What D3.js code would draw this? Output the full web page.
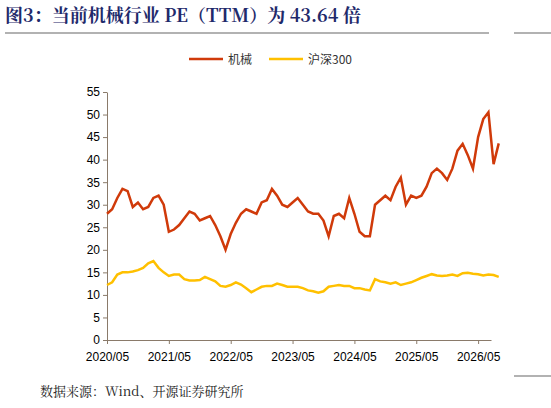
<!DOCTYPE html>
<html><head><meta charset="utf-8">
<script src="https://cdn.jsdelivr.net/npm/d3@7"></script>
<style>body{margin:0;background:#fff}text{font-family:"Liberation Sans",Arial,sans-serif}</style>
</head><body><svg id="c" width="551" height="408"></svg>
<script>
const xLabels = ["2020/05","2021/05","2022/05","2023/05","2024/05","2025/05","2026/05"];
const yTicks = [0,5,10,15,20,25,30,35,40,45,50,55];
const machinery = [28,29,31.5,33.5,33,29.5,30.5,29,29.5,31.5,32,30,24,24.5,25.5,27,28.5,28,26.5,27,27.5,25.5,23,20,23.5,26,28,29,28.5,28,30.5,31,33.5,32,30,29.5,30.5,31.5,30,28.5,28,28,26.5,23,27.5,28,27,31.5,28,24,23,23,30,31,32,31,34,36,30,32,31.5,32,34,37,38,37,35.5,38,42,43.5,41,38,45,49,50.5,39,43.6];
const hs300 = [12.2,12.8,14.5,15,15,15.2,15.5,16,17,17.5,16,15,14.2,14.5,14.5,13.5,13.2,13.2,13.3,14,13.5,13,12,11.8,12.2,12.8,12.3,11.5,10.6,11.2,11.8,12,12,12.5,12.2,11.8,11.8,11.8,11.5,11,10.8,10.5,10.8,11.8,12,12.2,12,12,11.5,11.5,11.2,11,13.5,13,12.8,12.5,12.8,12.2,12.5,12.8,13.3,13.8,14.2,14.6,14.3,14.2,14.3,14.5,14.2,14.8,14.9,14.7,14.6,14.3,14.5,14.4,14];

const svg = d3.select("#c");
const x = d3.scaleLinear().domain([0, 74.5]).range([107, 491]);
const y = d3.scaleLinear().domain([0, 55]).range([340, 92]);

svg.append("text").attr("x", 5).attr("y", 22).attr("fill", "#1f2a6b")
  .style("font-family", "'Noto Serif CJK SC','Noto Sans CJK SC',serif").style("font-weight", "bold").style("font-size", "18px")
  .text("图3：当前机械行业 PE（TTM）为 43.64 倍");
svg.append("line").attr("x1", 5).attr("x2", 489).attr("y1", 33).attr("y2", 33).attr("stroke", "#666").attr("stroke-width", 1.2);
svg.append("line").attr("x1", 514).attr("x2", 551).attr("y1", 33).attr("y2", 33).attr("stroke", "#666").attr("stroke-width", 1.2);
svg.append("line").attr("x1", 514).attr("x2", 551).attr("y1", 376).attr("y2", 376).attr("stroke", "#666").attr("stroke-width", 1.2);

const legend = [["机械", "#d03a0a", 189], ["沪深300", "#ffc000", 269]];
legend.forEach(([n, c, lx]) => {
  svg.append("line").attr("x1", lx).attr("x2", lx + 34).attr("y1", 59).attr("y2", 59).attr("stroke", c).attr("stroke-width", 2.5);
  svg.append("text").attr("x", lx + 39).attr("y", 64).attr("font-size", 12).attr("fill", "#333")
    .style("font-family", "'Noto Sans CJK SC',sans-serif").text(n);
});

const ya = svg.append("g").attr("transform", "translate(107,0)")
  .call(d3.axisLeft(y).tickValues(yTicks).tickSize(4).tickSizeOuter(0));
const xa = svg.append("g").attr("transform", "translate(0,340)")
  .call(d3.axisBottom(x).tickValues(xLabels.map((d, i) => i * 12)).tickFormat((d, i) => xLabels[i]).tickSize(4).tickSizeOuter(0));
[ya, xa].forEach(a => {
  a.select(".domain").attr("stroke", "#8a7a6a");
  a.selectAll(".tick line").attr("stroke", "#8a7a6a");
  a.selectAll("text").attr("font-size", 12).attr("fill", "#000");
});
xa.selectAll("text").attr("dy", "1.2em");

const line = d3.line().x((d, i) => x(i)).y(d => y(d));
svg.append("path").datum(hs300).attr("d", line).attr("fill", "none").attr("stroke", "#ffc000").attr("stroke-width", 2.5);
svg.append("path").datum(machinery).attr("d", line).attr("fill", "none").attr("stroke", "#d03a0a").attr("stroke-width", 2.5);

svg.append("text").attr("x", 40).attr("y", 396).attr("font-size", 13).attr("fill", "#222")
  .style("font-family", "'Noto Serif CJK SC','Noto Sans CJK SC',serif").text("数据来源：Wind、开源证券研究所");
</script></body></html>
